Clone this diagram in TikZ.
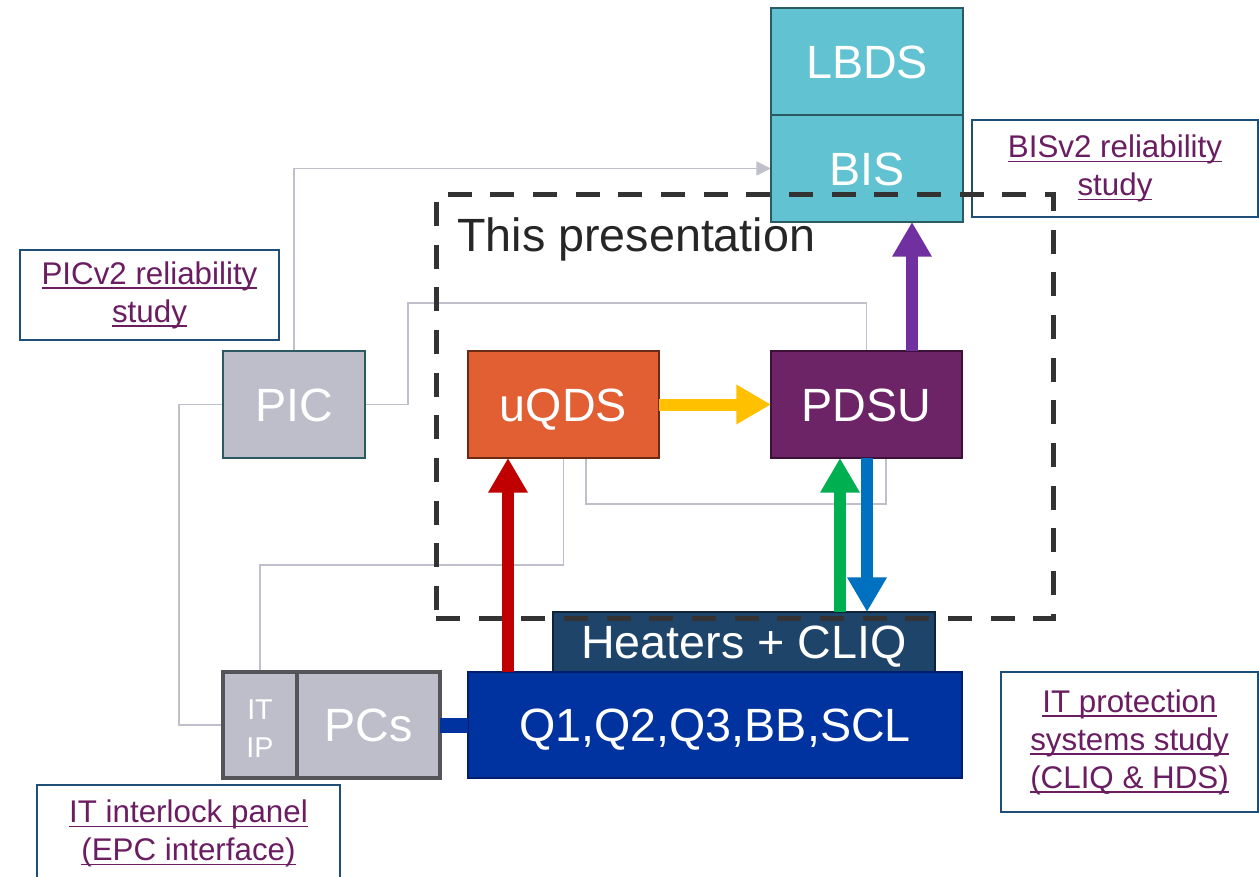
\documentclass[tikz,border=0pt]{standalone}
\usepackage{fontspec}
\setmainfont{Liberation Sans}
\usetikzlibrary{arrows.meta,calc}
\pgfdeclarelayer{back}
\pgfsetlayers{back,main}
\newdimen\pxu \pxu=0.75pt

\definecolor{tealfill}{HTML}{61C3D1}
\definecolor{tealline}{HTML}{2B5A62}
\definecolor{grayfill}{HTML}{BEBECA}
\definecolor{grayline}{HTML}{555559}
\definecolor{orangefill}{HTML}{E15F32}
\definecolor{orangeline}{HTML}{6A2A13}
\definecolor{plumfill}{HTML}{6C2466}
\definecolor{plumline}{HTML}{3D1038}
\definecolor{navyfill}{HTML}{1F4469}
\definecolor{navyline}{HTML}{0E2238}
\definecolor{magblue}{HTML}{0033A0}
\definecolor{magline}{HTML}{001E6E}
\definecolor{studyblue}{HTML}{1F4E79}
\definecolor{studytext}{HTML}{6B1D62}
\definecolor{wiregray}{HTML}{C0C0CC}
\definecolor{dashgray}{HTML}{333333}
\definecolor{labelgray}{HTML}{262626}
\definecolor{flowred}{HTML}{C00000}
\definecolor{flowyellow}{HTML}{FFC000}
\definecolor{flowgreen}{HTML}{00B050}
\definecolor{flowblue}{HTML}{0070C0}
\definecolor{flowpurple}{HTML}{7030A0}

\newcommand\bigfont{\fontsize{35}{42}\selectfont}
\newcommand\studyfont{\fontsize{23.5}{28.5}\selectfont}
\newcommand\tinyfont{\fontsize{21.5}{28.5}\selectfont}
% link-style underline at a fixed depth below the baseline
\newcommand\lnk[1]{\setbox0\hbox{#1}\rlap{\rule[-3.4pt]{\wd0}{1.1pt}}\box0}

\begin{document}
\begin{tikzpicture}[x=0.75pt,y=-0.75pt,
  plain/.style={draw, line width=2pt, inner sep=0pt, outer sep=0pt,
    text=white, font=\bigfont, align=center},
  block/.style={plain, text height=25.1pt, text depth=0pt},
  study/.style={draw=studyblue, fill=white, line width=1.5pt, inner sep=0pt,
    outer sep=0pt, text=studytext, font=\studyfont, align=center},
  wire/.style={draw=wiregray, line width=1.1pt},
  flow/.style={line width=9pt, -{Triangle[length=26pt,width=28pt]}}]
\useasboundingbox (0,0) rectangle (1259,877);

% beam dump and interlock
\node[block, fill=tealfill, draw=tealline, minimum width=192\pxu, minimum height=107\pxu] (lbds) at (867,61.5) {LBDS};
\node[block, fill=tealfill, draw=tealline, minimum width=192\pxu, minimum height=107\pxu] (bis) at (867,168.5) {BIS};

% study references
\node[study, minimum width=286\pxu, minimum height=97\pxu] (bisstudy) at (1115,168.5)
  {\lnk{BISv2 reliability}\\\lnk{study}};
\node[study, minimum width=259\pxu, minimum height=90\pxu] (picstudy) at (149.5,295)
  {\lnk{PICv2 reliability}\\\lnk{study}};
\node[study, minimum width=257\pxu, minimum height=140\pxu] (itstudy) at (1129.5,742)
  {\lnk{IT protection}\\\lnk{systems study}\\\lnk{(CLIQ \& HDS)}};
\node[study, minimum width=303\pxu, minimum height=97\pxu] (ilstudy) at (188.5,833.5)
  {\lnk{IT interlock panel}\\\lnk{(EPC interface)}};

% protection units
\node[block, fill=grayfill, draw=tealline, minimum width=142\pxu, minimum height=107\pxu] (pic) at (294,404.5) {PIC};
\node[block, fill=orangefill, draw=orangeline, minimum width=191\pxu, minimum height=107\pxu] (uqds) at (563.5,404.5) {uQDS};
\node[block, fill=plumfill, draw=plumline, minimum width=191\pxu, minimum height=107\pxu] (pdsu) at (866.5,404.5) {PDSU};

% magnets, powering and heaters
\node[block, fill=navyfill, draw=navyline, minimum width=382\pxu, minimum height=60\pxu] (heaters) at (744,642) {Heaters + CLIQ};
\node[block, fill=magblue, draw=magline, minimum width=494\pxu, minimum height=106\pxu] (magnets) at (715,725) {Q1,Q2,Q3,BB,SCL};
\node[plain, fill=grayfill, draw=grayline, line width=2.5pt, minimum width=74\pxu, minimum height=106\pxu, font=\tinyfont] (itip) at (260,725) {\rule{0pt}{19.5pt}IT\\IP};
\node[block, fill=grayfill, draw=grayline, line width=2.5pt, minimum width=143\pxu, minimum height=106\pxu] (pcs) at (368.5,725) {PCs};

% thin signal wires behind the blocks
\begin{pgfonlayer}{back}
\draw[wire, -{Triangle[length=11pt,width=10.5pt]}] (pic.north) |- (bis.west);
\draw[wire] (pic.east) -- ++(43,0) |- ($(pdsu.north)+(0,-48)$) -- (pdsu.north);
\draw[wire] (pic.west) -- ++(-44,0) |- (itip.west);
\draw[wire] (itip.north) |- ($(uqds.south)+(0,107)$) -- (uqds.south);
\draw[wire] ($(uqds.south)+(22.5,0)$) -- ++(0,46) -| ($(pdsu.south)+(19.5,0)$);
\end{pgfonlayer}

% scope of this presentation
\node[draw=dashgray, line width=3.75pt, dash pattern=on 18pt off 14pt,
  minimum width=617\pxu, minimum height=423\pxu, inner sep=0pt] (focus) at (744.5,406.5) {};
\node[anchor=base west, inner sep=0pt, font=\bigfont, text=labelgray] (focuslabel) at (457,252) {This presentation};

% power converter link
\draw[draw=magblue, line width=11.25pt] (pcs.east) -- (magnets.west);

% signal flow arrows
\coordinate (rx) at (508,0);
\coordinate (gx) at (840,0);
\coordinate (bx) at (867,0);
\coordinate (px) at (912,0);
\draw[flow, draw=flowyellow, fill=flowyellow] (uqds.east) -- (pdsu.west);
\draw[flow, draw=flowred, fill=flowred] (magnets.north -| rx) -- (uqds.south -| rx);
\draw[flow, draw=flowgreen, fill=flowgreen] (heaters.north -| gx) -- (pdsu.south -| gx);
\draw[flow, draw=flowblue, fill=flowblue] (pdsu.south -| bx) -- (heaters.north -| bx);
\draw[flow, draw=flowpurple, fill=flowpurple] (pdsu.north -| px) -- (bis.south -| px);
\end{tikzpicture}
\end{document}
